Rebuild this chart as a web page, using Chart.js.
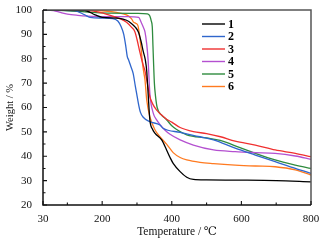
<!DOCTYPE html>
<html>
<head>
<meta charset="utf-8">
<script src="https://cdn.jsdelivr.net/npm/chart.js@4/dist/chart.umd.min.js"></script>
<style>
  html, body { margin: 0; padding: 0; background: #fff; }
  #wrap { width: 327px; height: 241px; }
</style>
</head>
<body>
<div id="wrap"><canvas id="chart"></canvas></div>
<script>
// TGA curves, weight (%) vs temperature (°C)
const seriesNames = ["1", "2", "3", "4", "5", "6"];
const seriesColors = ["#000000", "#2f66cc", "#f03030", "#b450d0", "#2e8b3e", "#ff7a20"];

const temp1 = [30, 150, 180, 200, 250, 270, 284, 295, 304, 312, 318, 324, 328, 332, 337, 345, 352, 371, 385, 395, 404, 424, 443, 462, 500, 600, 700, 800];
const weight1 = [100, 99.8, 98, 97, 96.6, 95.8, 94.5, 93, 91, 87, 83, 79.5, 75, 65.8, 54.9, 51, 49.4, 46.7, 42.6, 39.5, 37.1, 33.7, 31.4, 30.5, 30.3, 30.2, 30, 29.5];

const temp2 = [30, 120, 150, 165, 200, 230, 245, 255, 262, 268, 272, 276, 282, 289, 295, 299, 305, 310, 318, 337, 366, 375, 424, 481, 520, 582, 640, 697, 755, 800];
const weight2 = [100, 99.8, 98, 97, 96.7, 96.5, 95.5, 93, 90, 85, 81, 79.5, 77, 74, 69, 65.8, 61, 58, 56, 54.2, 52.8, 51.5, 49.8, 48, 46.7, 43.3, 40.5, 37.8, 35, 33];

const temp3 = [30, 150, 193, 230, 250, 270, 284, 294, 300, 308, 313, 318, 323, 328, 337, 345, 356, 370, 385, 400, 424, 462, 500, 540, 582, 640, 697, 755, 800];
const weight3 = [100, 100, 99, 97.5, 96.5, 95, 93, 91.1, 88, 82.9, 80, 77.4, 75, 71.3, 64.4, 61.5, 59, 57, 55.2, 54, 51.8, 50.1, 49.3, 48, 46.2, 44.6, 42.6, 41.2, 39.8];

const temp4 = [30, 60, 80, 100, 130, 160, 200, 250, 290, 305, 312, 318, 323, 328, 332, 337, 347, 356, 366, 380, 395, 424, 462, 520, 582, 640, 697, 755, 800];
const weight4 = [100, 99.8, 99, 98.3, 97.8, 97.5, 97.3, 97.3, 97.2, 97, 95, 93, 91, 86, 79.5, 65.8, 57.6, 55, 53, 50.8, 49, 46.7, 44.6, 42.6, 41.9, 41.5, 41.2, 40.1, 38.7];

const temp5 = [30, 100, 150, 200, 300, 330, 337, 341, 344, 346, 348, 350, 353, 358, 370, 385, 400, 414, 443, 500, 539, 596, 640, 697, 755, 800];
const weight5 = [100, 99.7, 99.2, 98.8, 98.6, 98.4, 97.5, 95.5, 93, 85, 77, 70, 65, 60, 57, 55, 52.5, 51, 48.8, 47.5, 46.5, 43.5, 41.2, 38.5, 36.4, 35];

const temp6 = [30, 150, 200, 241, 270, 284, 290, 297, 303, 308, 312, 316, 320, 323, 328, 337, 352, 366, 385, 404, 424, 443, 481, 520, 582, 640, 697, 755, 800];
const weight6 = [100, 100, 99.7, 99, 98, 96.5, 95, 94.5, 93.5, 89, 84, 78, 74, 71.3, 63.1, 56.2, 50.8, 48, 45, 41.5, 39.5, 38.5, 37.5, 37, 36.4, 36, 35.7, 34.4, 32.3];

const temps = [temp1, temp2, temp3, temp4, temp5, temp6];
const weights = [weight1, weight2, weight3, weight4, weight5, weight6];

const xMajor = [30, 200, 400, 600, 800];
const xMinor = [100, 300, 500, 700];
const yMajor = [20, 30, 40, 50, 60, 70, 80, 90, 100];
const yMinor = [25, 35, 45, 55, 65, 75, 85, 95];

const serif = "'Liberation Serif', 'Times New Roman', 'DejaVu Serif', serif";

// inward ticks, frame and the legend box inside the plot
const framePlugin = {
    id: "framePlugin",
    afterDatasetsDraw: function(chart) {
        let ctx = chart.ctx;
        let a = chart.chartArea;
        let x = chart.scales.x;
        let y = chart.scales.y;
        ctx.save();

        ctx.strokeStyle = "#555";
        ctx.lineWidth = 1.5;
        ctx.beginPath();
        ctx.moveTo(a.left, a.top);
        ctx.lineTo(a.right, a.top);
        ctx.lineTo(a.right, a.bottom);
        ctx.stroke();

        ctx.strokeStyle = "#111";
        ctx.beginPath();
        ctx.moveTo(a.left, a.top);
        ctx.lineTo(a.left, a.bottom);
        ctx.lineTo(a.right, a.bottom);
        ctx.stroke();

        ctx.lineWidth = 1.1;
        ctx.beginPath();
        xMajor.forEach(function(v) {
            let px = x.getPixelForValue(v);
            ctx.moveTo(px, a.bottom);
            ctx.lineTo(px, a.bottom - 4);
        });
        xMinor.forEach(function(v) {
            let px = x.getPixelForValue(v);
            ctx.moveTo(px, a.bottom);
            ctx.lineTo(px, a.bottom - 2.5);
        });
        yMajor.forEach(function(v) {
            let py = y.getPixelForValue(v);
            ctx.moveTo(a.left, py);
            ctx.lineTo(a.left + 4, py);
        });
        yMinor.forEach(function(v) {
            let py = y.getPixelForValue(v);
            ctx.moveTo(a.left, py);
            ctx.lineTo(a.left + 2.5, py);
        });
        ctx.stroke();

        // legend
        ctx.font = "bold 12px " + serif;
        ctx.textBaseline = "middle";
        ctx.fillStyle = "#000";
        chart.data.datasets.forEach(function(ds, i) {
            let ly = 24 + i * 12.5;
            ctx.strokeStyle = ds.borderColor;
            ctx.lineWidth = 1.4;
            ctx.beginPath();
            ctx.moveTo(202, ly);
            ctx.lineTo(225, ly);
            ctx.stroke();
            ctx.fillText(ds.label, 228, ly + 0.5);
        });

        ctx.restore();
    }
};

let datasets = seriesNames.map(function(name, i) {
    return {
        label: name,
        data: temps[i].map(function(t, j) { return {x: t, y: weights[i][j]}; }),
        borderColor: seriesColors[i],
        backgroundColor: seriesColors[i],
        borderWidth: 1.3,
        pointRadius: 0,
        cubicInterpolationMode: "monotone",
        fill: false
    };
});

let ctx = document.getElementById("chart");
let chart = new Chart(ctx, {
    type: "line",
    data: { datasets: datasets },
    options: {
        responsive: true,
        maintainAspectRatio: false,
        animation: false,
        events: [],
        layout: { padding: { left: 0, top: 10, right: 16, bottom: 0 } },
        plugins: {
            legend: { display: false },
            tooltip: { enabled: false }
        },
        scales: {
            x: {
                type: "linear",
                min: 30,
                max: 800,
                afterBuildTicks: function(scale) {
                    scale.ticks = xMajor.map(function(v) { return {value: v}; });
                },
                afterFit: function(scale) { scale.height = 36; },
                grid: { display: false },
                border: { display: false },
                ticks: {
                    color: "#111",
                    padding: 0,
                    maxRotation: 0,
                    font: { family: serif, size: 11 }
                },
                title: {
                    display: true,
                    text: "Temperature / ℃",
                    color: "#111",
                    padding: { top: 0, bottom: 2 },
                    font: { family: serif, size: 11.5 }
                }
            },
            y: {
                min: 20,
                max: 100,
                afterBuildTicks: function(scale) {
                    scale.ticks = yMajor.map(function(v) { return {value: v}; });
                },
                afterFit: function(scale) { scale.width = 43; },
                grid: { display: false },
                border: { display: false },
                ticks: {
                    color: "#111",
                    padding: 3,
                    font: { family: serif, size: 11 }
                },
                title: {
                    display: true,
                    text: "Weight / %",
                    color: "#111",
                    padding: { top: 4, bottom: 0 },
                    font: { family: serif, size: 10.5 }
                }
            }
        }
    },
    plugins: [framePlugin]
});
</script>
</body>
</html>
